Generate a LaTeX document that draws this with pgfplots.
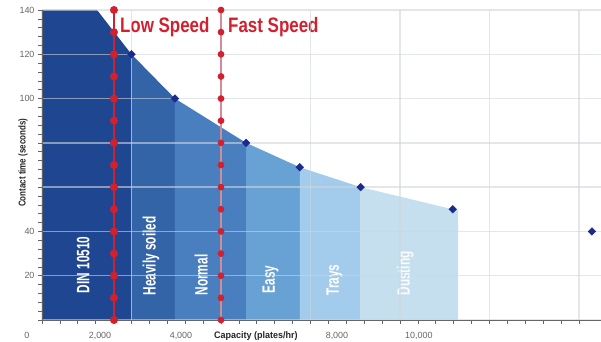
\documentclass[border=0pt]{standalone}
\usepackage{fontspec}
\setmainfont{Liberation Sans}
\usepackage{pgfplots}
\pgfplotsset{compat=1.18}
\definecolor{bA}{HTML}{1F4690}
\definecolor{bB}{HTML}{3464A8}
\definecolor{bC}{HTML}{4A7FBF}
\definecolor{bD}{HTML}{68A1D4}
\definecolor{bE}{HTML}{A3CBEB}
\definecolor{bF}{HTML}{C6DFEE}
\definecolor{spd}{HTML}{D3202F}
\definecolor{mk}{HTML}{1B2A8C}
\definecolor{gridc}{HTML}{D0D5DC}
\definecolor{tickc}{HTML}{666666}
\newcommand{\band}[1]{\scalebox{0.66}[1]{\fontsize{18}{18}\selectfont\bfseries #1}}
\newcommand{\spdlab}[1]{\scalebox{0.81}[1]{\fontsize{21}{21}\selectfont\bfseries #1}}
\begin{document}
\begin{tikzpicture}
\useasboundingbox (-42bp,-22bp) rectangle (559bp,320bp);
\begin{axis}[
  at={(0,0)}, anchor=south west,
  scale only axis, width=559bp, height=310bp,
  xmin=0, xmax=6.246, ymin=0, ymax=140,
  axis x line*=bottom, axis y line*=left,
  axis line style={draw=tickc, line width=0.8bp},
  axis on top,
  clip=false,
  xtick={0,1,...,6}, xticklabels={},
  minor x tick num=4,
  ytick={0,20,...,140},
  yticklabels={,20,40,,,100,120,140},
  minor y tick num=4,
  tick align=outside,
  major tick length=4bp, minor tick length=4bp,
  tick style={draw=tickc, line width=0.6bp},
  grid=major,
  major grid style={draw=gridc, opacity=0.6, line width=1.4bp},
  yticklabel style={font=\fontsize{9}{9}\selectfont, text=tickc},
]
% bands
\addplot[fill=bA, draw=none] coordinates {(0,0) (0,140) (0.615,140) (1,120) (1,0)};
\addplot[fill=bB, draw=none] coordinates {(1,0) (1,120) (1.486,100) (1.486,0)};
\addplot[fill=bC, draw=none] coordinates {(1.486,0) (1.486,100) (2.28,80) (2.28,0)};
\addplot[fill=bD, draw=none] coordinates {(2.28,0) (2.28,80) (2.88,69) (2.88,0)};
\addplot[fill=bE, draw=none] coordinates {(2.88,0) (2.88,69) (3.56,60) (3.56,0)};
\addplot[fill=bF, draw=none] coordinates {(3.56,0) (3.56,60) (4.59,50) (4.65,49.6) (4.65,0)};
% speed lines
\addplot[spd, line width=2.6bp, mark=*, mark size=2.6bp, mark options={fill=spd, draw=spd}]
  coordinates {(0.804,0) (0.804,10) (0.804,20) (0.804,30) (0.804,40) (0.804,50) (0.804,60) (0.804,70) (0.804,80) (0.804,90) (0.804,100) (0.804,110) (0.804,120) (0.804,130) (0.804,140)};
\addplot[spd, line width=2.2bp, mark=*, mark size=2.2bp, mark options={fill=spd, draw=spd}]
  coordinates {(2.0,0) (2.0,10) (2.0,20) (2.0,30) (2.0,40) (2.0,50) (2.0,60) (2.0,70) (2.0,80) (2.0,90) (2.0,100) (2.0,110) (2.0,120) (2.0,130) (2.0,140)};
% data points
\addplot[only marks, mark=square*, mark size=2.7bp, mark options={fill=mk, draw=mk, rotate=45}]
  coordinates {(1,120) (1.486,100) (2.28,80) (2.88,69) (3.56,60) (4.59,50) (6.145,40)};
% texts
\node[anchor=base west, text=spd, inner sep=0pt] at (axis cs:0.87,130) {\spdlab{Low Speed}};
\node[anchor=base west, text=spd, inner sep=0pt] at (axis cs:2.078,130) {\spdlab{Fast Speed}};
\node[rotate=90, anchor=west, text=white, inner sep=0pt] at (axis cs:0.46,12) {\band{DIN 10510}};
\node[rotate=90, anchor=west, text=white, inner sep=0pt] at (axis cs:1.218,11) {\band{Heavily soiled}};
\node[rotate=90, anchor=west, text=white, inner sep=0pt] at (axis cs:1.78,11) {\band{Normal}};
\node[rotate=90, anchor=west, text=white, inner sep=0pt] at (axis cs:2.555,12) {\band{Easy}};
\node[rotate=90, anchor=west, text=white, inner sep=0pt] at (axis cs:3.27,11) {\band{Trays}};
\node[rotate=90, anchor=west, text=white, opacity=0.9, inner sep=0pt] at (axis cs:4.06,11) {\band{Dusting}};
% x tick labels and axis titles
\node[anchor=base, text=tickc, inner sep=0pt, font=\fontsize{9}{9}\selectfont] at ([yshift=-18bp]axis cs:-0.168,0) {0};
\node[anchor=base, text=tickc, inner sep=0pt, font=\fontsize{9}{9}\selectfont] at ([yshift=-18bp]axis cs:0.648,0) {2,000};
\node[anchor=base, text=tickc, inner sep=0pt, font=\fontsize{9}{9}\selectfont] at ([yshift=-18bp]axis cs:1.553,0) {4,000};
\node[anchor=base, text=tickc, inner sep=0pt, font=\fontsize{9}{9}\selectfont] at ([yshift=-18bp]axis cs:3.296,0) {8,000};
\node[anchor=base, text=tickc, inner sep=0pt, font=\fontsize{9}{9}\selectfont] at ([yshift=-18bp]axis cs:4.21,0) {10,000};
\node[anchor=base, text=black!85, inner sep=0pt] at ([yshift=-18bp]axis cs:2.39,0) {\scalebox{0.95}[1]{\fontsize{9.5}{9.5}\selectfont\bfseries Capacity (plates/hr)}};
\node[rotate=90, anchor=center, text=black!85, inner sep=0pt] at ([xshift=-19bp]axis cs:0,71) {\scalebox{0.8}[1]{\fontsize{10}{10}\selectfont\bfseries Contact time (seconds)}};
\end{axis}
\end{tikzpicture}
\end{document}
